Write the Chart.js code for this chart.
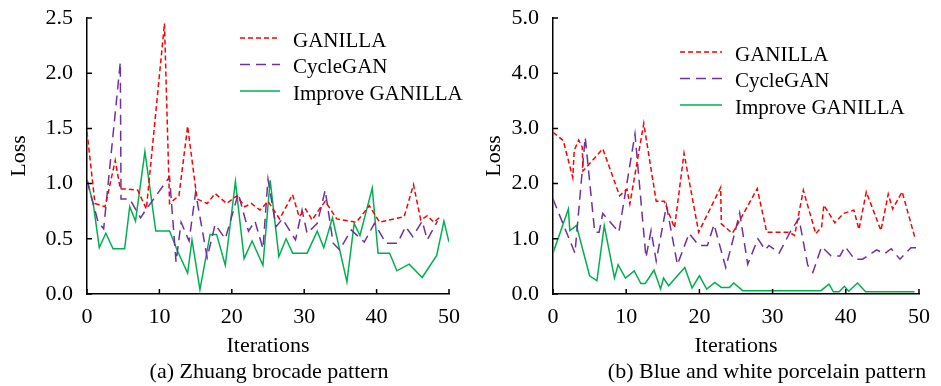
<!DOCTYPE html>
<html>
<head>
<meta charset="utf-8">
<script src="https://cdn.jsdelivr.net/npm/chart.js@4"></script>
<style>
  body { margin: 0; width: 941px; height: 386px; background: #fff; position: relative; overflow: hidden; }
  canvas { position: absolute; top: 0; }
  .caption { position: absolute; top: 358px; font-family: "Liberation Serif", serif; font-size: 22px; color: #000; white-space: nowrap; transform: translateX(-50%); }
</style>
</head>
<body>
<canvas id="chartA" width="470" height="386" style="left:0px"></canvas>
<canvas id="chartB" width="471" height="386" style="left:470px"></canvas>
<div class="caption" style="left:269px">(a) Zhuang brocade pattern</div>
<div class="caption" style="left:767px">(b) Blue and white porcelain pattern</div>
<script>
// (a) Zhuang brocade pattern
var zhuangGanillaIter = [0, 1.1, 2.5, 3.9, 4.6, 5.7, 7, 8.2, 10.7, 11.4, 12.7, 13.9, 15.2, 16.6, 17.7, 19.3, 20.7, 21.8, 22.7, 23.9, 25, 26.6, 28.4, 29.3, 30.2, 31.1, 32, 32.9, 34.5, 37.2, 39, 40.4, 43.8, 45.1, 46.1, 47, 47.9, 48.8];
var zhuangGanillaLoss = [1.47, 0.82, 0.79, 1.21, 0.95, 0.95, 0.94, 0.77, 2.45, 0.82, 0.89, 1.52, 0.86, 0.82, 0.91, 0.82, 0.89, 0.79, 0.82, 0.76, 0.84, 0.68, 0.9, 0.7, 0.77, 0.67, 0.76, 0.84, 0.68, 0.65, 0.8, 0.65, 0.7, 0.99, 0.67, 0.71, 0.65, 0.7];
var zhuangCycleIter = [0, 1.5, 2.3, 4.6, 4.7, 5.9, 7.4, 8.1, 11.4, 12.3, 13, 14.1, 15, 16.6, 17.7, 19.1, 20.9, 22.3, 23.2, 24.3, 25, 26.1, 27, 28.8, 29.7, 30.4, 31.8, 32.9, 34, 34.9, 36.5, 38.3, 39.7, 41.3, 42.9, 44, 45, 46.3, 47, 48.4];
var zhuangCycleLoss = [1.03, 0.66, 0.59, 2.1, 0.86, 0.86, 0.69, 0.76, 1.06, 0.29, 0.65, 0.48, 0.92, 0.33, 0.63, 0.5, 0.91, 0.57, 0.66, 0.41, 1.04, 0.61, 0.68, 0.49, 0.76, 0.55, 0.64, 0.94, 0.46, 0.4, 0.58, 0.47, 0.64, 0.46, 0.46, 0.61, 0.52, 0.66, 0.49, 0.66];
var zhuangImproveIter = [0, 0.9, 1.7, 2.6, 3.6, 5.2, 5.9, 6.7, 8, 9.5, 11.4, 12.5, 13.9, 14.5, 15.6, 17, 17.9, 19.1, 20.5, 21.7, 22.8, 24.3, 25.3, 26.5, 27.5, 28.4, 30.4, 31.8, 32.7, 33.9, 35.9, 36.9, 37.7, 39.4, 40.2, 41.8, 42.8, 44.5, 46.3, 48.3, 49.3, 50];
var zhuangImproveLoss = [1.04, 0.8, 0.42, 0.55, 0.41, 0.41, 0.79, 0.66, 1.29, 0.57, 0.57, 0.39, 0.19, 0.49, 0.04, 0.54, 0.54, 0.26, 1.02, 0.32, 0.48, 0.26, 1.03, 0.34, 0.5, 0.37, 0.37, 0.57, 0.42, 0.69, 0.11, 0.64, 0.53, 0.96, 0.37, 0.37, 0.21, 0.27, 0.15, 0.35, 0.66, 0.47];

// (b) Blue and white porcelain pattern
var porcelainGanillaIter = [0, 1.4, 2.7, 2.9, 3.5, 4, 4.1, 6.8, 9.1, 10.1, 10.5, 12.4, 14.1, 15.2, 16.6, 17.9, 19.9, 22.9, 23, 24.5, 25, 27.9, 29.2, 32.3, 33, 34.2, 35.9, 36.7, 37, 38.5, 39.7, 41.1, 41.8, 42.8, 44.8, 45.8, 46.4, 47.7, 49.4];
var porcelainGanillaLoss = [2.93, 2.78, 2.11, 2.6, 2.79, 2.66, 2.23, 2.63, 1.78, 1.9, 1.63, 3.09, 1.68, 1.68, 1.2, 2.55, 1.12, 1.93, 1.27, 1.1, 1.21, 1.91, 1.12, 1.12, 1.06, 1.88, 1.09, 1.22, 1.61, 1.29, 1.46, 1.52, 1.17, 1.85, 1.15, 1.81, 1.54, 1.85, 1.04];
var porcelainCycleIter = [0, 3, 4.4, 5.7, 6.3, 6.8, 9, 11.2, 12.7, 13.4, 14.1, 15.5, 17, 18.6, 19.9, 21.1, 22, 23.6, 24.8, 25.5, 26.6, 28, 29, 29.5, 30.9, 32.5, 33.6, 34.8, 35.5, 36.7, 38, 39.2, 39.9, 41.2, 42.3, 44.2, 45.3, 46.2, 47.4, 48.9, 49.6];
var porcelainCycleLoss = [1.72, 0.74, 2.84, 1.12, 1.12, 1.46, 1.12, 2.9, 0.66, 1.15, 0.6, 1.6, 0.53, 1.1, 0.88, 0.88, 1.26, 0.48, 1.09, 1.47, 0.54, 1.0, 0.8, 0.88, 0.74, 1.15, 1.37, 0.52, 0.39, 0.86, 0.69, 0.69, 0.86, 0.63, 0.63, 0.8, 0.73, 0.82, 0.63, 0.84, 0.84];
var porcelainImproveIter = [0, 2.1, 2.3, 3.2, 5, 6, 7, 8.4, 8.9, 9.9, 11.1, 12, 12.6, 13.8, 14.7, 15.1, 15.8, 18, 19, 20, 21, 22.1, 23, 24.1, 24.7, 25.9, 36.6, 37.7, 38.3, 39.1, 39.8, 40.4, 41.6, 42.7, 49.4];
var porcelainImproveLoss = [0.74, 1.54, 1.15, 1.24, 0.33, 0.24, 1.24, 0.29, 0.53, 0.29, 0.42, 0.19, 0.19, 0.43, 0.09, 0.29, 0.15, 0.48, 0.11, 0.33, 0.09, 0.21, 0.12, 0.12, 0.2, 0.06, 0.06, 0.18, 0.04, 0.04, 0.14, 0.05, 0.2, 0.04, 0.04];

var seriesNames = ["GANILLA", "CycleGAN", "Improve GANILLA"];
var xTicks = [0, 10, 20, 30, 40, 50];

var serif = "'Liberation Serif', 'Times New Roman', serif";

function pts(xs, ys) {
    return xs.map(function (x, i) { return { x: x, y: ys[i] }; });
}

// ticks pointing into the plot, like the original figure
var inwardTicks = {
    id: 'inwardTicks',
    afterDraw: function (chart) {
        var ctx = chart.ctx, area = chart.chartArea;
        var xs = chart.scales.x, ys = chart.scales.y;
        ctx.save();
        ctx.strokeStyle = '#000';
        ctx.lineWidth = 1.5;
        ctx.beginPath();
        xs.ticks.forEach(function (t) {
            var px = xs.getPixelForValue(t.value);
            ctx.moveTo(px, area.bottom);
            ctx.lineTo(px, area.bottom - 5);
        });
        ys.ticks.forEach(function (t) {
            var py = ys.getPixelForValue(t.value);
            ctx.moveTo(area.left, py);
            ctx.lineTo(area.left + 5, py);
        });
        ctx.stroke();
        ctx.restore();
    }
};

// legend drawn inside the plot
var lossLegend = {
    id: 'lossLegend',
    afterDraw: function (chart, args, opts) {
        var ctx = chart.ctx;
        ctx.save();
        ctx.font = '21px ' + serif;
        ctx.textBaseline = 'middle';
        ctx.fillStyle = '#000';
        chart.data.datasets.forEach(function (ds, i) {
            var y = opts.top + i * opts.rowGap;
            ctx.strokeStyle = ds.borderColor;
            ctx.lineWidth = ds.borderWidth;
            ctx.setLineDash(ds.borderDash || []);
            ctx.beginPath();
            ctx.moveTo(opts.lineLeft, y);
            ctx.lineTo(opts.lineRight, y);
            ctx.stroke();
            ctx.setLineDash([]);
            ctx.fillText(ds.label, opts.textLeft, y + 3);
        });
        ctx.restore();
    }
};

function makeChart(id, sets, yMax, yStep, yWidth, titlePad, padRight, legendOpts) {
    var config = {
        type: 'line',
        data: {
            datasets: [{
                label: seriesNames[0],
                data: sets[0],
                borderColor: '#ff0000',
                borderDash: [5, 3],
                borderWidth: 1.5
            }, {
                label: seriesNames[1],
                data: sets[1],
                borderColor: '#7030a0',
                borderDash: [10, 6],
                borderWidth: 1.5
            }, {
                label: seriesNames[2],
                data: sets[2],
                borderColor: '#00b050',
                borderWidth: 1.5
            }]
        },
        options: {
            responsive: false,
            animation: false,
            layout: { padding: { left: 0, right: padRight, top: 18, bottom: 25 } },
            elements: { point: { radius: 0 }, line: { tension: 0 } },
            plugins: {
                legend: { display: false },
                tooltip: { enabled: false },
                lossLegend: legendOpts
            },
            scales: {
                x: {
                    type: 'linear',
                    min: 0,
                    max: 50,
                    afterBuildTicks: function (s) { s.ticks = xTicks.map(function (v) { return { value: v }; }); },
                    afterFit: function (s) { s.height = 67; },
                    grid: { display: true, drawOnChartArea: false, drawTicks: false },
                    border: { color: '#000', width: 1.5 },
                    ticks: { color: '#000', font: { family: serif, size: 22 }, padding: 10, maxRotation: 0 },
                    title: { display: true, text: 'Iterations', color: '#000', font: { family: serif, size: 22 }, padding: { top: 0, bottom: 2 } }
                },
                y: {
                    min: 0,
                    max: yMax,
                    afterFit: function (s) {
                        s.width = yWidth;
                        s.paddingTop = 4;
                        s.paddingBottom = 4;
                    },
                    grid: { display: true, drawOnChartArea: false, drawTicks: false },
                    border: { color: '#000', width: 1.5 },
                    ticks: {
                        stepSize: yStep,
                        color: '#000',
                        font: { family: serif, size: 22 },
                        padding: 14,
                        callback: function (v) { return v.toFixed(1); }
                    },
                    title: { display: true, text: 'Loss', color: '#000', font: { family: serif, size: 22 }, padding: { top: titlePad, bottom: 0 } }
                }
            }
        },
        plugins: [inwardTicks, lossLegend]
    };
    return new Chart(document.getElementById(id), config);
}

makeChart('chartA', [
    pts(zhuangGanillaIter, zhuangGanillaLoss),
    pts(zhuangCycleIter, zhuangCycleLoss),
    pts(zhuangImproveIter, zhuangImproveLoss)
], 2.5, 0.5, 87, 6, 17, { lineLeft: 240, lineRight: 280, textLeft: 293, top: 38, rowGap: 26.5 });

makeChart('chartB', [
    pts(porcelainGanillaIter, porcelainGanillaLoss),
    pts(porcelainCycleIter, porcelainCycleLoss),
    pts(porcelainImproveIter, porcelainImproveLoss)
], 5, 1, 83, 11, 22, { lineLeft: 210, lineRight: 252, textLeft: 265, top: 52, rowGap: 26.5 });
</script>
</body>
</html>
